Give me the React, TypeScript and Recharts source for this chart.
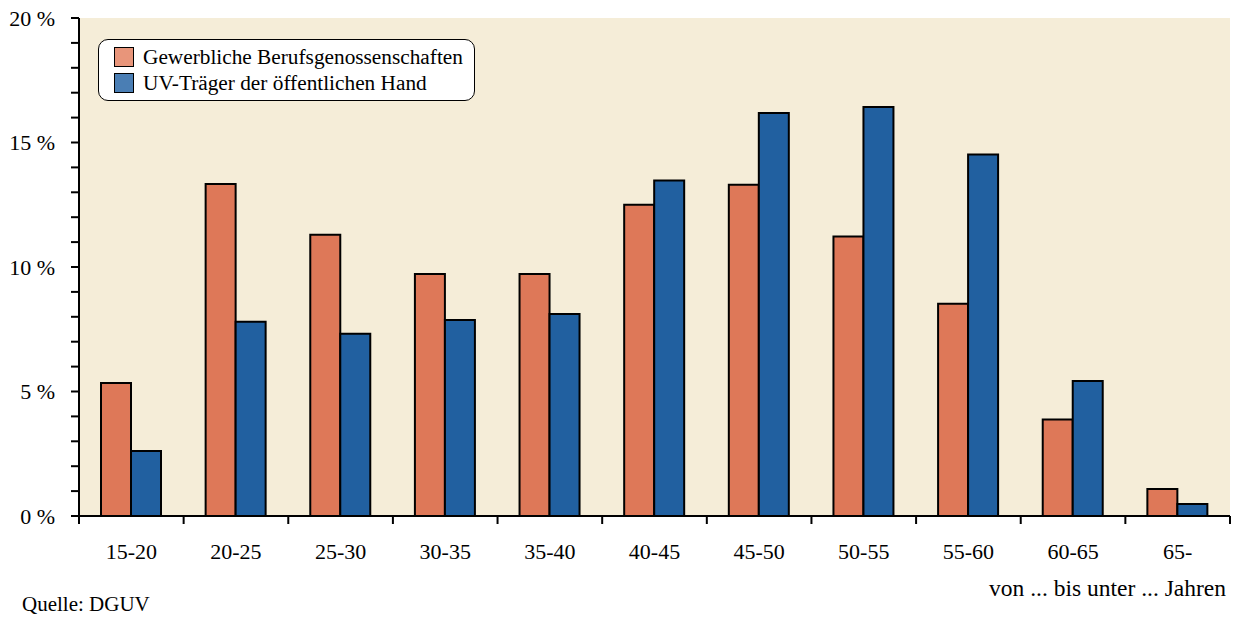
import { BarChart, Bar, XAxis, YAxis, CartesianGrid, Legend } from 'recharts';

const CATEGORIES = ['15-20', '20-25', '25-30', '30-35', '35-40', '40-45', '45-50', '50-55', '55-60', '60-65', '65-'];
const GEWERBLICH = [5.34, 13.33, 11.3, 9.72, 9.72, 12.5, 13.3, 11.22, 8.52, 3.88, 1.08];
const OEFFENTLICH = [2.61, 7.8, 7.32, 7.87, 8.11, 13.47, 16.18, 16.43, 14.52, 5.42, 0.48];
const Y_TICKS = Array.from({ length: 21 }, (_, i) => i);
const GRID_VALUES = [5, 10, 15];

const ORANGE = '#DE7858';
const BLUE = '#2160A0';
const FONT = '"Liberation Serif", "Times New Roman", serif';

const data = CATEGORIES.map((name, i) => ({
  name,
  gewerblich: GEWERBLICH[i],
  oeffentlich: OEFFENTLICH[i],
}));

const BAND = (1230 - 79) / CATEGORIES.length;

function XTick(props: any) {
  const { x, y, payload, index } = props;
  const isLast = index === CATEGORIES.length - 1;
  return (
    <g>
      <line x1={x - BAND / 2} x2={x - BAND / 2} y1={y - 8} y2={y} stroke="#000" strokeWidth={2} />
      {isLast && <line x1={x + BAND / 2} x2={x + BAND / 2} y1={y - 8} y2={y} stroke="#000" strokeWidth={2} />}
      <text x={x} y={y + 35} textAnchor="middle" fontFamily={FONT} fontSize={22} fill="#000">
        {payload.value}
      </text>
    </g>
  );
}

function LegendBox() {
  const rows = [
    { color: '#E8957A', label: 'Gewerbliche Berufsgenossenschaften' },
    { color: '#4A7EB4', label: 'UV-Träger der öffentlichen Hand' },
  ];
  return (
    <div
      style={{
        background: '#fff',
        border: '1.5px solid #000',
        borderRadius: 10,
        padding: '4px 10px 4px 15px',
        fontFamily: FONT,
        fontSize: 21.3,
        color: '#000',
        width: 377,
        boxSizing: 'border-box',
        whiteSpace: 'nowrap',
      }}
    >
      {rows.map((r) => (
        <div key={r.label} style={{ display: 'flex', alignItems: 'center', height: 26 }}>
          <span
            style={{
              display: 'inline-block',
              width: 18,
              height: 18,
              background: r.color,
              border: '1px solid #000',
              marginRight: 9,
              flexShrink: 0,
            }}
          />
          {r.label}
        </div>
      ))}
    </div>
  );
}

export default function App() {
  return (
    <div style={{ position: 'absolute', left: 0, top: 0, width: 1236, height: 617, background: '#fff' }}>
      <BarChart
        width={1236}
        height={617}
        data={data}
        margin={{ top: 18, right: 6, bottom: 0, left: 0 }}
        barCategoryGap={22}
        barGap={0}
      >
        <CartesianGrid
          horizontalValues={GRID_VALUES}
          vertical={false}
          stroke="#000"
          strokeWidth={1.5}
          fill="#F5EDD8"
          fillOpacity={1}
        />
        <XAxis
          dataKey="name"
          xAxisId="bottom"
          height={101}
          axisLine={{ stroke: '#000', strokeWidth: 2 }}
          tickLine={false}
          tick={<XTick />}
          interval={0}
        />
        <XAxis xAxisId="top" orientation="top" dataKey="name" height={0} tick={false} tickLine={false}
          axisLine={{ stroke: '#000', strokeWidth: 2 }} />
        <YAxis
          yAxisId="left"
          width={79}
          domain={[0, 20]}
          ticks={Y_TICKS}
          interval={0}
          tickSize={8}
          tickLine={{ stroke: '#000', strokeWidth: 2 }}
          axisLine={{ stroke: '#000', strokeWidth: 2 }}
          tickFormatter={(v: number) => (v % 5 === 0 ? `${v} %` : '')}
          tick={{ fontFamily: FONT, fontSize: 22, fill: '#000' }}
          tickMargin={16}
        />
        <YAxis yAxisId="right" orientation="right" width={0} domain={[0, 20]} tick={false} tickLine={false}
          axisLine={{ stroke: '#000', strokeWidth: 2 }} />
        <Legend
          content={<LegendBox />}
          layout="horizontal"
          verticalAlign="middle"
          align="center"
          wrapperStyle={{ left: 98, top: 39, width: 'auto' }}
        />
        <Bar
          xAxisId="bottom"
          yAxisId="left"
          dataKey="gewerblich"
          name="Gewerbliche Berufsgenossenschaften"
          fill={ORANGE}
          stroke="#000"
          strokeWidth={2}
          isAnimationActive={false}
        />
        <Bar
          xAxisId="bottom"
          yAxisId="left"
          dataKey="oeffentlich"
          name="UV-Träger der öffentlichen Hand"
          fill={BLUE}
          stroke="#000"
          strokeWidth={2}
          isAnimationActive={false}
        />
      </BarChart>
      <div
        style={{
          position: 'absolute',
          right: 10,
          top: 575,
          fontFamily: FONT,
          fontSize: 23.5,
          color: '#000',
        }}
      >
        von ... bis unter ... Jahren
      </div>
      <div
        style={{
          position: 'absolute',
          left: 22,
          top: 592,
          fontFamily: FONT,
          fontSize: 21,
          color: '#000',
        }}
      >
        Quelle: DGUV
      </div>
    </div>
  );
}
